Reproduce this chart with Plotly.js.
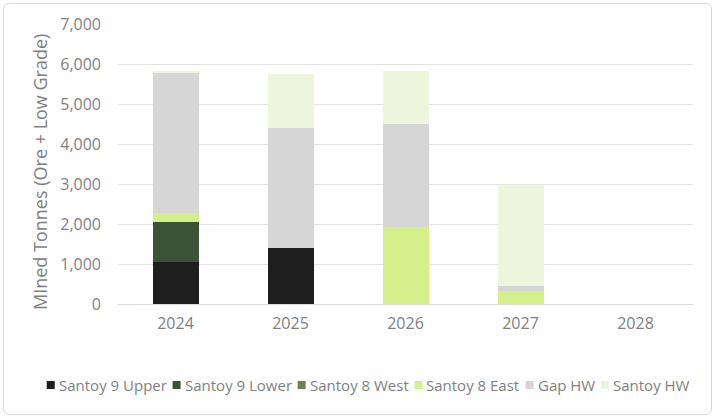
<!DOCTYPE html>
<html>
<head>
<meta charset="utf-8">
<script src="https://cdn.plot.ly/plotly-3.0.1.min.js"></script>
<style>
  html, body { margin: 0; padding: 0; background: #fff; }
  #frame { position: absolute; left: 3px; top: 3px; width: 709px; height: 412px; border: 1px solid #d9d9d9; border-radius: 6px; box-sizing: border-box; }
  #chart { position: absolute; left: 0; top: 0; width: 716px; height: 419px; }
</style>
</head>
<body>
<div id="frame"></div>
<div id="chart"></div>
<script>
const years = ['2024', '2025', '2026', '2027', '2028'];
const santoy9Upper = [1040, 1390, 0, 0, 0];
const santoy9Lower = [1000, 0, 0, 0, 0];
const santoy8West  = [0, 0, 0, 0, 0];
const santoy8East  = [225, 0, 1930, 330, 0];
const gapHW        = [3500, 3000, 2570, 130, 0];
const santoyHW     = [60, 1350, 1325, 2510, 0];

const seriesNames  = ['Santoy 9 Upper', 'Santoy 9 Lower', 'Santoy 8 West', 'Santoy 8 East', 'Gap HW', 'Santoy HW'];
const seriesValues = [santoy9Upper, santoy9Lower, santoy8West, santoy8East, gapHW, santoyHW];
const seriesColors = ['#1e1e1e', '#3a5535', '#6a8150', '#d5f08a', '#d6d6d6', '#eef5dd'];
const yTitle = 'MIned Tonnes (Ore + Low Grade)';

const FONT = '"Open Sans", "Noto Sans", sans-serif';
const TEXT = '#7f7f7f';
const W = 716, H = 419;
const M = { l: 118, r: 23, t: 24, b: 115 };
const plotW = W - M.l - M.r, plotH = H - M.t - M.b;
const px2x = px => (px - M.l) / plotW;
const px2y = py => (M.t + plotH - py) / plotH;

const traces = seriesNames.map((n, i) => ({
  type: 'bar',
  name: n,
  x: years,
  y: seriesValues[i],
  marker: { color: seriesColors[i], line: { width: 0 } },
  showlegend: false
}));

// Compact legend like the reference: small square + label, one centred row
const legFont = 15, sq = 8, gapSq = 4, gapItem = 6, legCenterX = 368, legCenterY = 385;
const ctx = document.createElement('canvas').getContext('2d');
ctx.font = legFont + 'px "Open Sans"';
const widths = seriesNames.map(n => ctx.measureText(n).width);
const total = widths.reduce((a, w) => a + sq + gapSq + w, 0) + gapItem * (seriesNames.length - 1);
const shapes = [], annotations = [];
let cx = legCenterX - total / 2;
seriesNames.forEach((n, i) => {
  shapes.push({
    type: 'rect', xref: 'paper', yref: 'paper', layer: 'above',
    x0: px2x(cx), x1: px2x(cx + sq),
    y0: px2y(legCenterY + sq / 2), y1: px2y(legCenterY - sq / 2),
    fillcolor: seriesColors[i], line: { width: 0 }
  });
  cx += sq + gapSq;
  annotations.push({
    xref: 'paper', yref: 'paper', x: px2x(cx - 1), y: px2y(legCenterY),
    xanchor: 'left', yanchor: 'middle', showarrow: false, text: n,
    font: { family: FONT, size: legFont, color: TEXT }, borderpad: 0
  });
  cx += widths[i] + gapItem;
});

// Y-axis title (positioned like the reference)
annotations.push({
  xref: 'paper', yref: 'paper', x: px2x(40), y: px2y(172),
  xanchor: 'center', yanchor: 'middle', textangle: -90, showarrow: false,
  text: yTitle, font: { family: FONT, size: 18, color: TEXT }
});

const layout = {
  width: W, height: H,
  paper_bgcolor: 'rgba(0,0,0,0)',
  plot_bgcolor: 'rgba(0,0,0,0)',
  barmode: 'stack',
  bargap: 0.6,
  margin: M,
  font: { family: FONT, size: 14, color: TEXT },
  showlegend: false,
  xaxis: {
    type: 'category',
    showgrid: false,
    showline: true,
    linecolor: '#d9d9d9',
    linewidth: 1,
    ticks: '',
    tickfont: { family: FONT, size: 16, color: TEXT },
    ticklabelstandoff: 5
  },
  yaxis: {
    range: [0, 7000],
    tickvals: [0, 1000, 2000, 3000, 4000, 5000, 6000, 7000],
    tickformat: ',d',
    showgrid: true,
    gridcolor: '#e3e3e3',
    gridwidth: 1,
    zeroline: false,
    showline: false,
    ticks: '',
    tickfont: { family: FONT, size: 16, color: TEXT },
    ticklabelstandoff: 16
  },
  shapes: shapes,
  annotations: annotations
};

Plotly.newPlot('chart', traces, layout, { displayModeBar: false, staticPlot: true });
</script>
</body>
</html>
